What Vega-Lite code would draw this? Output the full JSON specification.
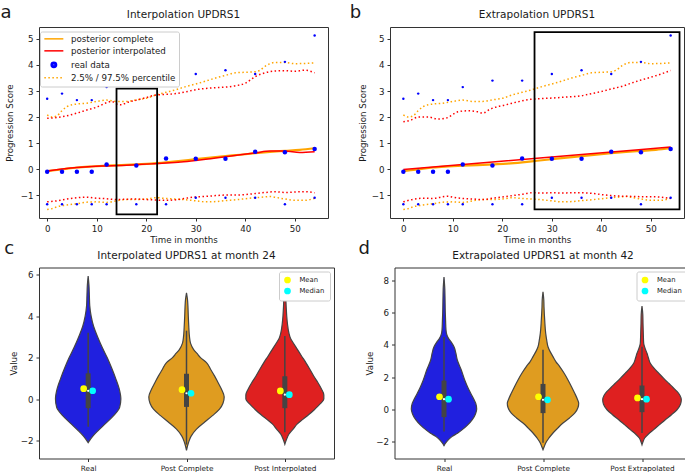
{
"$schema": "https://vega.github.io/schema/vega-lite/v6.json",
"padding": {"left": 0, "top": 4, "right": 0, "bottom": 0},
"background": "white",
"datasets": {
"curves": [
{"p":"ab","c":"mid","t":0,"v":-0.08},{"p":"ab","c":"mid","t":3,"v":-0.01},{"p":"ab","c":"mid","t":6,"v":0.06},{"p":"ab","c":"mid","t":9,"v":0.1},{"p":"ab","c":"mid","t":12,"v":0.13},{"p":"ab","c":"mid","t":15,"v":0.15},{"p":"ab","c":"mid","t":18,"v":0.18},{"p":"ab","c":"mid","t":21,"v":0.21},{"p":"ab","c":"mid","t":24,"v":0.26},{"p":"ab","c":"mid","t":27,"v":0.32},{"p":"ab","c":"mid","t":30,"v":0.38},{"p":"ab","c":"mid","t":33,"v":0.44},{"p":"ab","c":"mid","t":36,"v":0.5},{"p":"ab","c":"mid","t":39,"v":0.55},{"p":"ab","c":"mid","t":42,"v":0.61},{"p":"ab","c":"mid","t":45,"v":0.66},{"p":"ab","c":"mid","t":48,"v":0.7},{"p":"ab","c":"mid","t":51,"v":0.74},{"p":"ab","c":"mid","t":54,"v":0.8},
{"p":"ab","c":"hi","t":0,"v":2.08},{"p":"ab","c":"hi","t":1,"v":2.0},{"p":"ab","c":"hi","t":2,"v":2.05},{"p":"ab","c":"hi","t":3,"v":2.25},{"p":"ab","c":"hi","t":4,"v":2.4},{"p":"ab","c":"hi","t":5,"v":2.47},{"p":"ab","c":"hi","t":6,"v":2.5},{"p":"ab","c":"hi","t":8,"v":2.53},{"p":"ab","c":"hi","t":10,"v":2.6},{"p":"ab","c":"hi","t":12,"v":2.65},{"p":"ab","c":"hi","t":14,"v":2.6},{"p":"ab","c":"hi","t":16,"v":2.6},{"p":"ab","c":"hi","t":18,"v":2.66},{"p":"ab","c":"hi","t":20,"v":2.72},{"p":"ab","c":"hi","t":22,"v":2.85},{"p":"ab","c":"hi","t":24,"v":2.95},{"p":"ab","c":"hi","t":26,"v":3.05},{"p":"ab","c":"hi","t":28,"v":3.17},{"p":"ab","c":"hi","t":30,"v":3.27},{"p":"ab","c":"hi","t":32,"v":3.38},{"p":"ab","c":"hi","t":34,"v":3.5},{"p":"ab","c":"hi","t":36,"v":3.6},{"p":"ab","c":"hi","t":38,"v":3.7},{"p":"ab","c":"hi","t":40,"v":3.72},{"p":"ab","c":"hi","t":42,"v":3.74},{"p":"ab","c":"hi","t":43,"v":3.8},{"p":"ab","c":"hi","t":44,"v":3.95},{"p":"ab","c":"hi","t":45,"v":4.05},{"p":"ab","c":"hi","t":46,"v":4.1},{"p":"ab","c":"hi","t":48,"v":4.1},{"p":"ab","c":"hi","t":50,"v":4.05},{"p":"ab","c":"hi","t":52,"v":4.06},{"p":"ab","c":"hi","t":54,"v":4.08},
{"p":"ab","c":"lo","t":0,"v":-1.55},{"p":"ab","c":"lo","t":1,"v":-1.52},{"p":"ab","c":"lo","t":2,"v":-1.45},{"p":"ab","c":"lo","t":4,"v":-1.38},{"p":"ab","c":"lo","t":6,"v":-1.33},{"p":"ab","c":"lo","t":8,"v":-1.27},{"p":"ab","c":"lo","t":10,"v":-1.26},{"p":"ab","c":"lo","t":12,"v":-1.28},{"p":"ab","c":"lo","t":14,"v":-1.22},{"p":"ab","c":"lo","t":16,"v":-1.17},{"p":"ab","c":"lo","t":18,"v":-1.17},{"p":"ab","c":"lo","t":20,"v":-1.15},{"p":"ab","c":"lo","t":22,"v":-1.1},{"p":"ab","c":"lo","t":24,"v":-1.13},{"p":"ab","c":"lo","t":26,"v":-1.15},{"p":"ab","c":"lo","t":28,"v":-1.18},{"p":"ab","c":"lo","t":30,"v":-1.22},{"p":"ab","c":"lo","t":32,"v":-1.26},{"p":"ab","c":"lo","t":34,"v":-1.25},{"p":"ab","c":"lo","t":36,"v":-1.21},{"p":"ab","c":"lo","t":38,"v":-1.18},{"p":"ab","c":"lo","t":40,"v":-1.14},{"p":"ab","c":"lo","t":42,"v":-1.1},{"p":"ab","c":"lo","t":44,"v":-1.07},{"p":"ab","c":"lo","t":45,"v":-1.05},{"p":"ab","c":"lo","t":46,"v":-1.08},{"p":"ab","c":"lo","t":48,"v":-1.15},{"p":"ab","c":"lo","t":50,"v":-1.2},{"p":"ab","c":"lo","t":52,"v":-1.2},{"p":"ab","c":"lo","t":54,"v":-1.12},
{"p":"a","c":"mid","t":0,"v":-0.07},{"p":"a","c":"mid","t":3,"v":0.0},{"p":"a","c":"mid","t":6,"v":0.06},{"p":"a","c":"mid","t":9,"v":0.1},{"p":"a","c":"mid","t":12,"v":0.12},{"p":"a","c":"mid","t":15,"v":0.14},{"p":"a","c":"mid","t":18,"v":0.17},{"p":"a","c":"mid","t":21,"v":0.2},{"p":"a","c":"mid","t":24,"v":0.23},{"p":"a","c":"mid","t":27,"v":0.27},{"p":"a","c":"mid","t":30,"v":0.33},{"p":"a","c":"mid","t":33,"v":0.4},{"p":"a","c":"mid","t":36,"v":0.47},{"p":"a","c":"mid","t":39,"v":0.55},{"p":"a","c":"mid","t":42,"v":0.62},{"p":"a","c":"mid","t":45,"v":0.69},{"p":"a","c":"mid","t":48,"v":0.69},{"p":"a","c":"mid","t":51,"v":0.64},{"p":"a","c":"mid","t":54,"v":0.67},
{"p":"a","c":"hi","t":0,"v":1.95},{"p":"a","c":"hi","t":2,"v":1.98},{"p":"a","c":"hi","t":4,"v":2.05},{"p":"a","c":"hi","t":6,"v":2.15},{"p":"a","c":"hi","t":8,"v":2.27},{"p":"a","c":"hi","t":10,"v":2.38},{"p":"a","c":"hi","t":12,"v":2.55},{"p":"a","c":"hi","t":13,"v":2.6},{"p":"a","c":"hi","t":14,"v":2.5},{"p":"a","c":"hi","t":15,"v":2.47},{"p":"a","c":"hi","t":16,"v":2.55},{"p":"a","c":"hi","t":18,"v":2.65},{"p":"a","c":"hi","t":20,"v":2.75},{"p":"a","c":"hi","t":22,"v":2.85},{"p":"a","c":"hi","t":24,"v":2.87},{"p":"a","c":"hi","t":26,"v":2.9},{"p":"a","c":"hi","t":28,"v":2.97},{"p":"a","c":"hi","t":30,"v":3.05},{"p":"a","c":"hi","t":32,"v":3.1},{"p":"a","c":"hi","t":34,"v":3.13},{"p":"a","c":"hi","t":36,"v":3.15},{"p":"a","c":"hi","t":38,"v":3.2},{"p":"a","c":"hi","t":40,"v":3.3},{"p":"a","c":"hi","t":41,"v":3.42},{"p":"a","c":"hi","t":42,"v":3.55},{"p":"a","c":"hi","t":44,"v":3.7},{"p":"a","c":"hi","t":46,"v":3.77},{"p":"a","c":"hi","t":48,"v":3.78},{"p":"a","c":"hi","t":50,"v":3.76},{"p":"a","c":"hi","t":52,"v":3.8},{"p":"a","c":"hi","t":54,"v":3.7},
{"p":"a","c":"lo","t":0,"v":-1.26},{"p":"a","c":"lo","t":2,"v":-1.22},{"p":"a","c":"lo","t":4,"v":-1.15},{"p":"a","c":"lo","t":6,"v":-1.1},{"p":"a","c":"lo","t":8,"v":-1.08},{"p":"a","c":"lo","t":10,"v":-1.12},{"p":"a","c":"lo","t":12,"v":-1.14},{"p":"a","c":"lo","t":14,"v":-1.17},{"p":"a","c":"lo","t":16,"v":-1.16},{"p":"a","c":"lo","t":18,"v":-1.15},{"p":"a","c":"lo","t":20,"v":-1.17},{"p":"a","c":"lo","t":22,"v":-1.19},{"p":"a","c":"lo","t":24,"v":-1.2},{"p":"a","c":"lo","t":26,"v":-1.18},{"p":"a","c":"lo","t":28,"v":-1.12},{"p":"a","c":"lo","t":30,"v":-1.07},{"p":"a","c":"lo","t":32,"v":-1.05},{"p":"a","c":"lo","t":34,"v":-1.02},{"p":"a","c":"lo","t":36,"v":-1.0},{"p":"a","c":"lo","t":38,"v":-1.0},{"p":"a","c":"lo","t":40,"v":-0.98},{"p":"a","c":"lo","t":42,"v":-0.94},{"p":"a","c":"lo","t":44,"v":-0.9},{"p":"a","c":"lo","t":46,"v":-0.87},{"p":"a","c":"lo","t":48,"v":-0.9},{"p":"a","c":"lo","t":50,"v":-0.88},{"p":"a","c":"lo","t":52,"v":-0.87},{"p":"a","c":"lo","t":54,"v":-0.91},
{"p":"b","c":"mid","t":0,"v":-0.02},{"p":"b","c":"mid","t":18,"v":0.27},{"p":"b","c":"mid","t":36,"v":0.56},{"p":"b","c":"mid","t":54,"v":0.85},
{"p":"b","c":"hi","t":0,"v":1.82},{"p":"b","c":"hi","t":1.5,"v":1.88},{"p":"b","c":"hi","t":3,"v":2.0},{"p":"b","c":"hi","t":5,"v":2.0},{"p":"b","c":"hi","t":7,"v":1.92},{"p":"b","c":"hi","t":9,"v":1.98},{"p":"b","c":"hi","t":10,"v":2.1},{"p":"b","c":"hi","t":11,"v":2.2},{"p":"b","c":"hi","t":13,"v":2.24},{"p":"b","c":"hi","t":15,"v":2.2},{"p":"b","c":"hi","t":16,"v":2.15},{"p":"b","c":"hi","t":17.5,"v":2.3},{"p":"b","c":"hi","t":19,"v":2.4},{"p":"b","c":"hi","t":20.5,"v":2.46},{"p":"b","c":"hi","t":23,"v":2.58},{"p":"b","c":"hi","t":25.7,"v":2.68},{"p":"b","c":"hi","t":28,"v":2.71},{"p":"b","c":"hi","t":30,"v":2.73},{"p":"b","c":"hi","t":33,"v":2.77},{"p":"b","c":"hi","t":36,"v":2.82},{"p":"b","c":"hi","t":38,"v":2.9},{"p":"b","c":"hi","t":40,"v":2.98},{"p":"b","c":"hi","t":42,"v":3.08},{"p":"b","c":"hi","t":44,"v":3.17},{"p":"b","c":"hi","t":46,"v":3.3},{"p":"b","c":"hi","t":48,"v":3.42},{"p":"b","c":"hi","t":50,"v":3.53},{"p":"b","c":"hi","t":52,"v":3.65},{"p":"b","c":"hi","t":54,"v":3.79},
{"p":"b","c":"lo","t":0,"v":-1.26},{"p":"b","c":"lo","t":2,"v":-1.16},{"p":"b","c":"lo","t":4,"v":-1.12},{"p":"b","c":"lo","t":6,"v":-1.13},{"p":"b","c":"lo","t":8,"v":-1.06},{"p":"b","c":"lo","t":9,"v":-1.04},{"p":"b","c":"lo","t":10,"v":-1.08},{"p":"b","c":"lo","t":12,"v":-1.13},{"p":"b","c":"lo","t":14,"v":-1.15},{"p":"b","c":"lo","t":16,"v":-1.17},{"p":"b","c":"lo","t":18,"v":-1.12},{"p":"b","c":"lo","t":20,"v":-1.07},{"p":"b","c":"lo","t":22,"v":-1.02},{"p":"b","c":"lo","t":24,"v":-0.97},{"p":"b","c":"lo","t":26,"v":-0.91},{"p":"b","c":"lo","t":28,"v":-0.92},{"p":"b","c":"lo","t":30,"v":-0.91},{"p":"b","c":"lo","t":32,"v":-0.92},{"p":"b","c":"lo","t":34,"v":-0.91},{"p":"b","c":"lo","t":36,"v":-0.91},{"p":"b","c":"lo","t":38,"v":-0.93},{"p":"b","c":"lo","t":40,"v":-0.98},{"p":"b","c":"lo","t":42,"v":-1.02},{"p":"b","c":"lo","t":44,"v":-1.04},{"p":"b","c":"lo","t":46,"v":-1.05},{"p":"b","c":"lo","t":48,"v":-1.06},{"p":"b","c":"lo","t":50,"v":-1.06},{"p":"b","c":"lo","t":52,"v":-1.08},{"p":"b","c":"lo","t":54,"v":-1.13}
],
"real": [
{"t":0,"v":-0.1,"k":"mean","s":"real data"},{"t":3,"v":-0.1,"k":"mean","s":"real data"},{"t":6,"v":-0.1,"k":"mean","s":"real data"},{"t":9,"v":-0.1,"k":"mean","s":"real data"},{"t":12,"v":0.18,"k":"mean","s":"real data"},{"t":18,"v":0.14,"k":"mean","s":"real data"},{"t":24,"v":0.41,"k":"mean","s":"real data"},{"t":30,"v":0.4,"k":"mean","s":"real data"},{"t":36,"v":0.4,"k":"mean","s":"real data"},{"t":42,"v":0.67,"k":"mean","s":"real data"},{"t":48,"v":0.65,"k":"mean","s":"real data"},{"t":54,"v":0.77,"k":"mean","s":"real data"},
{"t":0,"v":2.7,"k":"q","s":"real data"},{"t":3,"v":2.9,"k":"q","s":"real data"},{"t":6,"v":2.65,"k":"q","s":"real data"},{"t":9,"v":2.65,"k":"q","s":"real data"},{"t":12,"v":3.15,"k":"q","s":"real data"},{"t":18,"v":3.4,"k":"q","s":"real data"},{"t":24,"v":3.4,"k":"q","s":"real data"},{"t":30,"v":3.65,"k":"q","s":"real data"},{"t":36,"v":3.8,"k":"q","s":"real data"},{"t":42,"v":3.65,"k":"q","s":"real data"},{"t":48,"v":4.12,"k":"q","s":"real data"},{"t":54,"v":5.13,"k":"q","s":"real data"},
{"t":0,"v":-1.35,"k":"q","s":"real data"},{"t":3,"v":-1.35,"k":"q","s":"real data"},{"t":6,"v":-1.35,"k":"q","s":"real data"},{"t":9,"v":-1.35,"k":"q","s":"real data"},{"t":12,"v":-1.35,"k":"q","s":"real data"},{"t":18,"v":-1.35,"k":"q","s":"real data"},{"t":24,"v":-1.35,"k":"q","s":"real data"},{"t":30,"v":-1.1,"k":"q","s":"real data"},{"t":36,"v":-1.1,"k":"q","s":"real data"},{"t":42,"v":-1.1,"k":"q","s":"real data"},{"t":48,"v":-1.35,"k":"q","s":"real data"},{"t":54,"v":-1.1,"k":"q","s":"real data"}
],
"frames": [
{"p":"a","t":14.0,"t2":22.2,"v":-1.74,"v2":3.09},
{"p":"b","t":26.5,"t2":55.8,"v":-1.55,"v2":5.26}
],
"violin": [
{"p":"c","cat":"Real","v":5.94,"d":0},{"p":"c","cat":"Real","v":5.5,"d":0.008},{"p":"c","cat":"Real","v":5.0,"d":0.012},{"p":"c","cat":"Real","v":4.5,"d":0.016},{"p":"c","cat":"Real","v":4.0,"d":0.03},{"p":"c","cat":"Real","v":3.5,"d":0.055},{"p":"c","cat":"Real","v":3.0,"d":0.095},{"p":"c","cat":"Real","v":2.5,"d":0.14},{"p":"c","cat":"Real","v":2.0,"d":0.19},{"p":"c","cat":"Real","v":1.5,"d":0.235},{"p":"c","cat":"Real","v":1.0,"d":0.275},{"p":"c","cat":"Real","v":0.5,"d":0.31},{"p":"c","cat":"Real","v":0.0,"d":0.327},{"p":"c","cat":"Real","v":-0.4,"d":0.315},{"p":"c","cat":"Real","v":-0.8,"d":0.255},{"p":"c","cat":"Real","v":-1.2,"d":0.17},{"p":"c","cat":"Real","v":-1.5,"d":0.105},{"p":"c","cat":"Real","v":-1.8,"d":0.045},{"p":"c","cat":"Real","v":-2.1,"d":0},
{"p":"c","cat":"Post Complete","v":5.13,"d":0},{"p":"c","cat":"Post Complete","v":4.8,"d":0.01},{"p":"c","cat":"Post Complete","v":4.4,"d":0.015},{"p":"c","cat":"Post Complete","v":4.0,"d":0.018},{"p":"c","cat":"Post Complete","v":3.5,"d":0.023},{"p":"c","cat":"Post Complete","v":3.0,"d":0.03},{"p":"c","cat":"Post Complete","v":2.7,"d":0.04},{"p":"c","cat":"Post Complete","v":2.4,"d":0.07},{"p":"c","cat":"Post Complete","v":2.2,"d":0.105},{"p":"c","cat":"Post Complete","v":2.0,"d":0.14},{"p":"c","cat":"Post Complete","v":1.76,"d":0.2},{"p":"c","cat":"Post Complete","v":1.4,"d":0.245},{"p":"c","cat":"Post Complete","v":1.12,"d":0.28},{"p":"c","cat":"Post Complete","v":0.8,"d":0.315},{"p":"c","cat":"Post Complete","v":0.47,"d":0.35},{"p":"c","cat":"Post Complete","v":0.1,"d":0.377},{"p":"c","cat":"Post Complete","v":-0.2,"d":0.365},{"p":"c","cat":"Post Complete","v":-0.49,"d":0.33},{"p":"c","cat":"Post Complete","v":-0.8,"d":0.26},{"p":"c","cat":"Post Complete","v":-1.1,"d":0.185},{"p":"c","cat":"Post Complete","v":-1.45,"d":0.1},{"p":"c","cat":"Post Complete","v":-1.8,"d":0.045},{"p":"c","cat":"Post Complete","v":-2.1,"d":0.02},{"p":"c","cat":"Post Complete","v":-2.48,"d":0},
{"p":"c","cat":"Post Interpolated","v":5.25,"d":0},{"p":"c","cat":"Post Interpolated","v":4.9,"d":0.009},{"p":"c","cat":"Post Interpolated","v":4.49,"d":0.013},{"p":"c","cat":"Post Interpolated","v":4.0,"d":0.019},{"p":"c","cat":"Post Interpolated","v":3.6,"d":0.027},{"p":"c","cat":"Post Interpolated","v":3.2,"d":0.04},{"p":"c","cat":"Post Interpolated","v":2.9,"d":0.06},{"p":"c","cat":"Post Interpolated","v":2.72,"d":0.083},{"p":"c","cat":"Post Interpolated","v":2.4,"d":0.125},{"p":"c","cat":"Post Interpolated","v":2.08,"d":0.167},{"p":"c","cat":"Post Interpolated","v":1.76,"d":0.21},{"p":"c","cat":"Post Interpolated","v":1.44,"d":0.25},{"p":"c","cat":"Post Interpolated","v":1.1,"d":0.29},{"p":"c","cat":"Post Interpolated","v":0.8,"d":0.33},{"p":"c","cat":"Post Interpolated","v":0.5,"d":0.365},{"p":"c","cat":"Post Interpolated","v":0.2,"d":0.39},{"p":"c","cat":"Post Interpolated","v":0.0,"d":0.39},{"p":"c","cat":"Post Interpolated","v":-0.25,"d":0.35},{"p":"c","cat":"Post Interpolated","v":-0.49,"d":0.3},{"p":"c","cat":"Post Interpolated","v":-0.75,"d":0.24},{"p":"c","cat":"Post Interpolated","v":-0.97,"d":0.183},{"p":"c","cat":"Post Interpolated","v":-1.2,"d":0.125},{"p":"c","cat":"Post Interpolated","v":-1.45,"d":0.083},{"p":"c","cat":"Post Interpolated","v":-1.7,"d":0.04},{"p":"c","cat":"Post Interpolated","v":-1.94,"d":0.017},{"p":"c","cat":"Post Interpolated","v":-2.18,"d":0},
{"p":"d","cat":"Real","v":8.24,"d":0},{"p":"d","cat":"Real","v":7.5,"d":0.008},{"p":"d","cat":"Real","v":7.0,"d":0.01},{"p":"d","cat":"Real","v":6.0,"d":0.013},{"p":"d","cat":"Real","v":5.5,"d":0.016},{"p":"d","cat":"Real","v":4.93,"d":0.02},{"p":"d","cat":"Real","v":4.6,"d":0.03},{"p":"d","cat":"Real","v":4.41,"d":0.045},{"p":"d","cat":"Real","v":4.15,"d":0.075},{"p":"d","cat":"Real","v":3.89,"d":0.1},{"p":"d","cat":"Real","v":3.5,"d":0.118},{"p":"d","cat":"Real","v":3.06,"d":0.133},{"p":"d","cat":"Real","v":2.44,"d":0.173},{"p":"d","cat":"Real","v":1.82,"d":0.207},{"p":"d","cat":"Real","v":1.4,"d":0.235},{"p":"d","cat":"Real","v":0.99,"d":0.267},{"p":"d","cat":"Real","v":0.6,"d":0.3},{"p":"d","cat":"Real","v":0.37,"d":0.317},{"p":"d","cat":"Real","v":0.0,"d":0.327},{"p":"d","cat":"Real","v":-0.3,"d":0.315},{"p":"d","cat":"Real","v":-0.66,"d":0.283},{"p":"d","cat":"Real","v":-1.0,"d":0.235},{"p":"d","cat":"Real","v":-1.28,"d":0.183},{"p":"d","cat":"Real","v":-1.5,"d":0.135},{"p":"d","cat":"Real","v":-1.7,"d":0.083},{"p":"d","cat":"Real","v":-1.9,"d":0.045},{"p":"d","cat":"Real","v":-2.11,"d":0.017},{"p":"d","cat":"Real","v":-2.28,"d":0},
{"p":"d","cat":"Post Complete","v":7.31,"d":0},{"p":"d","cat":"Post Complete","v":6.8,"d":0.008},{"p":"d","cat":"Post Complete","v":6.38,"d":0.01},{"p":"d","cat":"Post Complete","v":5.55,"d":0.017},{"p":"d","cat":"Post Complete","v":4.72,"d":0.027},{"p":"d","cat":"Post Complete","v":4.3,"d":0.037},{"p":"d","cat":"Post Complete","v":3.89,"d":0.05},{"p":"d","cat":"Post Complete","v":3.6,"d":0.07},{"p":"d","cat":"Post Complete","v":3.27,"d":0.1},{"p":"d","cat":"Post Complete","v":2.95,"d":0.13},{"p":"d","cat":"Post Complete","v":2.65,"d":0.167},{"p":"d","cat":"Post Complete","v":2.25,"d":0.21},{"p":"d","cat":"Post Complete","v":1.82,"d":0.25},{"p":"d","cat":"Post Complete","v":1.4,"d":0.285},{"p":"d","cat":"Post Complete","v":0.99,"d":0.317},{"p":"d","cat":"Post Complete","v":0.6,"d":0.345},{"p":"d","cat":"Post Complete","v":0.37,"d":0.357},{"p":"d","cat":"Post Complete","v":0.1,"d":0.35},{"p":"d","cat":"Post Complete","v":-0.25,"d":0.317},{"p":"d","cat":"Post Complete","v":-0.55,"d":0.265},{"p":"d","cat":"Post Complete","v":-0.87,"d":0.2},{"p":"d","cat":"Post Complete","v":-1.2,"d":0.145},{"p":"d","cat":"Post Complete","v":-1.49,"d":0.1},{"p":"d","cat":"Post Complete","v":-1.8,"d":0.06},{"p":"d","cat":"Post Complete","v":-2.11,"d":0.027},{"p":"d","cat":"Post Complete","v":-2.35,"d":0.012},{"p":"d","cat":"Post Complete","v":-2.53,"d":0},
{"p":"d","cat":"Post Extrapolated","v":6.42,"d":0},{"p":"d","cat":"Post Extrapolated","v":5.9,"d":0.008},{"p":"d","cat":"Post Extrapolated","v":5.34,"d":0.01},{"p":"d","cat":"Post Extrapolated","v":4.7,"d":0.013},{"p":"d","cat":"Post Extrapolated","v":4.1,"d":0.017},{"p":"d","cat":"Post Extrapolated","v":3.8,"d":0.03},{"p":"d","cat":"Post Extrapolated","v":3.48,"d":0.05},{"p":"d","cat":"Post Extrapolated","v":3.17,"d":0.065},{"p":"d","cat":"Post Extrapolated","v":2.86,"d":0.083},{"p":"d","cat":"Post Extrapolated","v":2.55,"d":0.12},{"p":"d","cat":"Post Extrapolated","v":2.24,"d":0.167},{"p":"d","cat":"Post Extrapolated","v":1.93,"d":0.215},{"p":"d","cat":"Post Extrapolated","v":1.61,"d":0.267},{"p":"d","cat":"Post Extrapolated","v":1.35,"d":0.31},{"p":"d","cat":"Post Extrapolated","v":1.1,"d":0.35},{"p":"d","cat":"Post Extrapolated","v":0.85,"d":0.38},{"p":"d","cat":"Post Extrapolated","v":0.58,"d":0.393},{"p":"d","cat":"Post Extrapolated","v":0.3,"d":0.385},{"p":"d","cat":"Post Extrapolated","v":-0.04,"d":0.35},{"p":"d","cat":"Post Extrapolated","v":-0.35,"d":0.295},{"p":"d","cat":"Post Extrapolated","v":-0.66,"d":0.233},{"p":"d","cat":"Post Extrapolated","v":-0.97,"d":0.175},{"p":"d","cat":"Post Extrapolated","v":-1.28,"d":0.117},{"p":"d","cat":"Post Extrapolated","v":-1.55,"d":0.065},{"p":"d","cat":"Post Extrapolated","v":-1.8,"d":0.027},{"p":"d","cat":"Post Extrapolated","v":-2.0,"d":0.012},{"p":"d","cat":"Post Extrapolated","v":-2.22,"d":0}
],
"boxes": [
{"p":"c","cat":"Real","part":"w","v":-1.34,"v2":3.2},{"p":"c","cat":"Real","part":"q","v":-0.44,"v2":1.24},
{"p":"c","cat":"Post Complete","part":"w","v":-2.2,"v2":3.3},{"p":"c","cat":"Post Complete","part":"q","v":-0.38,"v2":1.22},
{"p":"c","cat":"Post Interpolated","part":"w","v":-1.6,"v2":3.04},{"p":"c","cat":"Post Interpolated","part":"q","v":-0.44,"v2":1.1},
{"p":"d","cat":"Real","part":"w","v":-1.39,"v2":4.5},{"p":"d","cat":"Real","part":"q","v":-0.5,"v2":1.78},
{"p":"d","cat":"Post Complete","part":"w","v":-2.1,"v2":3.7},{"p":"d","cat":"Post Complete","part":"q","v":-0.25,"v2":1.57},
{"p":"d","cat":"Post Extrapolated","part":"w","v":-1.49,"v2":3.89},{"p":"d","cat":"Post Extrapolated","part":"q","v":-0.19,"v2":1.47}
],
"stats": [
{"p":"c","cat":"Real","stat":"Mean","v":0.5},{"p":"c","cat":"Real","stat":"Median","v":0.4},
{"p":"c","cat":"Post Complete","stat":"Mean","v":0.45},{"p":"c","cat":"Post Complete","stat":"Median","v":0.28},
{"p":"c","cat":"Post Interpolated","stat":"Mean","v":0.39},{"p":"c","cat":"Post Interpolated","stat":"Median","v":0.21},
{"p":"d","cat":"Real","stat":"Mean","v":0.77},{"p":"d","cat":"Real","stat":"Median","v":0.62},
{"p":"d","cat":"Post Complete","stat":"Mean","v":0.77},{"p":"d","cat":"Post Complete","stat":"Median","v":0.58},
{"p":"d","cat":"Post Extrapolated","stat":"Mean","v":0.7},{"p":"d","cat":"Post Extrapolated","stat":"Median","v":0.62}
]
},
"vconcat": [
{
"hconcat": [
{
"title": {"text": "a", "anchor": "start", "frame": "bounds", "fontSize": 18, "fontWeight": "normal", "baseline": "alphabetic", "offset": -6.5, "dx": -5, "dy": 20},
"resolve": {"scale": {"color": "independent", "shape": "independent", "size": "independent"}, "legend": {"color": "independent", "shape": "independent", "size": "independent"}},
"vconcat": [
{
"width": 289, "height": 191,
"title": {"text": "Interpolation UPDRS1"},
"encoding": {
"x": {"field": "t", "type": "quantitative", "title": "Time in months", "scale": {"domain": [-1.65, 56.7], "nice": false, "zero": false}, "axis": {"values": [0,10,20,30,40,50], "titlePadding": 3, "labelFlush": false}},
"y": {"field": "v", "type": "quantitative", "title": "Progression Score", "scale": {"domain": [-1.88, 5.46], "nice": false, "zero": false}, "axis": {"values": [-1,0,1,2,3,4,5], "titlePadding": 5.3}}
},
"layer": [
{"data": {"name": "curves"}, "transform": [{"filter": "datum.p==='ab' && datum.c!=='mid'"}], "mark": {"type": "line", "color": "orange", "strokeWidth": 1.5, "strokeDash": [1.5, 2.5], "interpolate": "monotone"}, "encoding": {"detail": {"field": "c"}}},
{"data": {"name": "curves"}, "transform": [{"filter": "datum.p==='a' && datum.c!=='mid'"}], "mark": {"type": "line", "color": "red", "strokeWidth": 1.5, "strokeDash": [1.5, 2.5], "interpolate": "monotone"}, "encoding": {"detail": {"field": "c"}}},
{"data": {"name": "curves"}, "transform": [{"filter": "datum.p==='ab' && datum.c==='mid'"}], "mark": {"type": "line", "color": "orange", "strokeWidth": 2.2, "interpolate": "monotone"}, "encoding": {}},
{"data": {"name": "curves"}, "transform": [{"filter": "datum.p==='a' && datum.c==='mid'"}], "mark": {"type": "line", "color": "red", "strokeWidth": 1.5, "interpolate": "monotone"}, "encoding": {}},
{"data": {"name": "real"}, "mark": {"type": "circle", "color": "blue", "opacity": 1}, "encoding": {"size": {"field": "k", "type": "ordinal", "scale": {"domain": ["mean","q"], "range": [20, 6]}, "legend": null}}},
{"data": {"name": "real"}, "transform": [{"filter": "datum.t===0 && datum.k==='mean'"}], "mark": {"type": "point", "filled": false, "opacity": 0, "strokeWidth": 1.5},
 "encoding": {
  "color": {"field": "s", "type": "nominal",
   "scale": {"domain": ["posterior complete","posterior interpolated","real data","2.5% / 97.5% percentile"], "range": ["orange", "red", "blue", "orange"]},
   "legend": {"title": null, "orient": "none", "legendX": 1, "legendY": 4.5, "padding": 3, "fillColor": "white", "strokeColor": "#cccccc", "cornerRadius": 2, "labelFontSize": 8.7, "labelOffset": 19.3, "symbolSize": 36, "rowPadding": 2, "symbolStrokeWidth": 1.5, "encode": {"symbols": {"update": {"opacity": {"value": 1}}}}}},
  "shape": {"field": "s", "type": "nominal",
   "scale": {"domain": ["posterior complete","posterior interpolated","real data","2.5% / 97.5% percentile"], "range": ["M-1,0H5.33", "M-1,0H5.33", "M1.27,0A0.9,0.9,0,1,1,3.07,0A0.9,0.9,0,1,1,1.27,0ZM1.72,0A0.45,0.45,0,1,1,2.62,0A0.45,0.45,0,1,1,1.72,0ZM2.07,0A0.1,0.1,0,1,1,2.27,0A0.1,0.1,0,1,1,2.07,0Z", "M-1,0H-0.5M0.33,0H0.83M1.67,0H2.17M3,0H3.5M4.33,0H4.83"]},
   "legend": {"title": null, "orient": "none", "legendX": 1, "legendY": 4.5, "padding": 3, "fillColor": "white", "strokeColor": "#cccccc", "cornerRadius": 2, "labelFontSize": 8.7, "labelOffset": 19.3, "symbolSize": 36, "rowPadding": 2, "symbolStrokeWidth": 1.5, "encode": {"symbols": {"update": {"opacity": {"value": 1}}}}}}}},
{"data": {"name": "frames"}, "transform": [{"filter": "datum.p==='a'"}], "mark": {"type": "rect", "fill": "transparent", "stroke": "black", "strokeWidth": 1.8}, "encoding": {"x2": {"field": "t2"}, "y2": {"field": "v2"}}}
]
}
]
},
{
"title": {"text": "b", "anchor": "start", "frame": "bounds", "fontSize": 18, "fontWeight": "normal", "baseline": "alphabetic", "offset": -6.5, "dx": -8.3, "dy": 20},
"resolve": {"scale": {"color": "independent", "shape": "independent", "size": "independent"}, "legend": {"color": "independent", "shape": "independent", "size": "independent"}},
"vconcat": [
{
"width": 294, "height": 191,
"title": {"text": "Extrapolation UPDRS1"},
"encoding": {
"x": {"field": "t", "type": "quantitative", "title": "Time in months", "scale": {"domain": [-2.7, 56.7], "nice": false, "zero": false}, "axis": {"values": [0,10,20,30,40,50], "titlePadding": 3, "labelFlush": false}},
"y": {"field": "v", "type": "quantitative", "title": "Progression Score", "scale": {"domain": [-1.88, 5.46], "nice": false, "zero": false}, "axis": {"values": [-1,0,1,2,3,4,5], "titlePadding": 3.6}}
},
"layer": [
{"data": {"name": "curves"}, "transform": [{"filter": "datum.p==='ab' && datum.c!=='mid'"}], "mark": {"type": "line", "color": "orange", "strokeWidth": 1.5, "strokeDash": [1.5, 2.5], "interpolate": "monotone"}, "encoding": {"detail": {"field": "c"}}},
{"data": {"name": "curves"}, "transform": [{"filter": "datum.p==='b' && datum.c!=='mid'"}], "mark": {"type": "line", "color": "red", "strokeWidth": 1.5, "strokeDash": [1.5, 2.5], "interpolate": "monotone"}, "encoding": {"detail": {"field": "c"}}},
{"data": {"name": "curves"}, "transform": [{"filter": "datum.p==='ab' && datum.c==='mid'"}], "mark": {"type": "line", "color": "orange", "strokeWidth": 2.2, "interpolate": "monotone"}, "encoding": {}},
{"data": {"name": "curves"}, "transform": [{"filter": "datum.p==='b' && datum.c==='mid'"}], "mark": {"type": "line", "color": "red", "strokeWidth": 1.5, "interpolate": "monotone"}, "encoding": {}},
{"data": {"name": "real"}, "mark": {"type": "circle", "color": "blue", "opacity": 1}, "encoding": {"size": {"field": "k", "type": "ordinal", "scale": {"domain": ["mean","q"], "range": [20, 6]}, "legend": null}}},
{"data": {"name": "frames"}, "transform": [{"filter": "datum.p==='b'"}], "mark": {"type": "rect", "fill": "transparent", "stroke": "black", "strokeWidth": 1.8}, "encoding": {"x2": {"field": "t2"}, "y2": {"field": "v2"}}}
]
}
]
}
],
"spacing": 20,
"resolve": {"scale": {"color": "independent", "shape": "independent", "size": "independent"}, "legend": {"color": "independent", "shape": "independent", "size": "independent"}}
},
{
"hconcat": [
{
"title": {"text": "c", "anchor": "start", "frame": "bounds", "fontSize": 18, "fontWeight": "normal", "baseline": "alphabetic", "offset": -2.4, "dx": -5, "dy": 20},
"resolve": {"scale": {"color": "independent"}, "legend": {"color": "independent"}},
"vconcat": [
{
"width": 295, "height": 191,
"title": {"text": "Interpolated UPDRS1 at month 24"},
"encoding": {"y": {"field": "v", "type": "quantitative", "title": "Value", "scale": {"domain": [-2.87, 6.35], "nice": false, "zero": false}, "axis": {"values": [-2,0,2,4,6], "titlePadding": 1.5}}},
"layer": [
{"data": {"name": "violin"}, "transform": [{"filter": "datum.p==='c' && datum.cat==='Real'"}], "mark": {"type": "area", "orient": "horizontal", "interpolate": "monotone", "fill": "#2020df", "stroke": "#444444", "strokeWidth": 1.2}, "encoding": {"x": {"field": "d", "type": "quantitative", "stack": "center", "scale": {"domain": [-0.0823, 1.3927], "nice": false}, "axis": null}}},
{"data": {"name": "violin"}, "transform": [{"filter": "datum.p==='c' && datum.cat==='Post Complete'"}], "mark": {"type": "area", "orient": "horizontal", "interpolate": "monotone", "fill": "#df9c20", "stroke": "#444444", "strokeWidth": 1.2}, "encoding": {"x": {"field": "d", "type": "quantitative", "stack": "center", "scale": {"domain": [-0.549, 0.926], "nice": false}, "axis": null}}},
{"data": {"name": "violin"}, "transform": [{"filter": "datum.p==='c' && datum.cat==='Post Interpolated'"}], "mark": {"type": "area", "orient": "horizontal", "interpolate": "monotone", "fill": "#df2020", "stroke": "#444444", "strokeWidth": 1.2}, "encoding": {"x": {"field": "d", "type": "quantitative", "stack": "center", "scale": {"domain": [-1.0342, 0.4408], "nice": false}, "axis": null}}},
{"data": {"name": "boxes"}, "transform": [{"filter": "datum.p==='c' && datum.part==='w'"}], "mark": {"type": "rule", "color": "#444444", "strokeWidth": 1.5}, "encoding": {"x": {"field": "cat", "type": "nominal", "title": null, "scale": {"type": "point", "padding": 0.5, "domain": ["Real","Post Complete","Post Interpolated"]}, "axis": {"labelFontSize": 7.3, "labelAngle": 0}}, "y2": {"field": "v2"}}},
{"data": {"name": "boxes"}, "transform": [{"filter": "datum.p==='c' && datum.part==='q'"}], "mark": {"type": "rule", "color": "#444444", "strokeWidth": 5}, "encoding": {"x": {"field": "cat", "type": "nominal", "title": null, "scale": {"type": "point", "padding": 0.5, "domain": ["Real","Post Complete","Post Interpolated"]}, "axis": null}, "y2": {"field": "v2"}}},
{"data": {"name": "stats"}, "transform": [{"filter": "datum.p==='c' && datum.stat==='Median'"}], "mark": {"type": "circle", "color": "white", "size": 5, "opacity": 1}, "encoding": {"x": {"field": "cat", "type": "nominal", "title": null, "scale": {"type": "point", "padding": 0.5, "domain": ["Real","Post Complete","Post Interpolated"]}, "axis": null}}},
{"data": {"name": "stats"}, "transform": [{"filter": "datum.p==='c'"}], "mark": {"type": "circle", "size": 45, "opacity": 1},
 "encoding": {"x": {"field": "cat", "type": "nominal", "title": null, "scale": {"type": "point", "padding": 0.5, "domain": ["Real","Post Complete","Post Interpolated"]}, "axis": null},
   "xOffset": {"field": "stat", "type": "nominal", "scale": {"type": "point", "padding": 0, "range": [-4.5, 4.5]}},
   "color": {"field": "stat", "type": "nominal", "scale": {"domain": ["Mean","Median"], "range": ["#ffff00","#00ffff"]},
     "legend": {"title": null, "orient": "top-right", "offset": 4, "padding": 5, "fillColor": "white", "strokeColor": "#cccccc", "cornerRadius": 2, "labelFontSize": 6.8, "symbolType": "circle", "symbolSize": 45, "symbolStrokeWidth": 0, "rowPadding": 3, "labelOffset": 8.5}}}}
],
"resolve": {"scale": {"x": "independent"}}
}
]
},
{
"title": {"text": "d", "anchor": "start", "frame": "bounds", "fontSize": 18, "fontWeight": "normal", "baseline": "alphabetic", "offset": -2.4, "dx": -6.6, "dy": 20},
"resolve": {"scale": {"color": "independent"}, "legend": {"color": "independent"}},
"vconcat": [
{
"width": 297, "height": 191,
"title": {"text": "Extrapolated UPDRS1 at month 42"},
"encoding": {"y": {"field": "v", "type": "quantitative", "title": "Value", "scale": {"domain": [-3.08, 8.83], "nice": false, "zero": false}, "axis": {"values": [-2,0,2,4,6,8], "titlePadding": 1.2}}},
"layer": [
{"data": {"name": "violin"}, "transform": [{"filter": "datum.p==='d' && datum.cat==='Real'"}], "mark": {"type": "area", "orient": "horizontal", "interpolate": "monotone", "fill": "#2020df", "stroke": "#444444", "strokeWidth": 1.2}, "encoding": {"x": {"field": "d", "type": "quantitative", "stack": "center", "scale": {"domain": [-0.084, 1.401], "nice": false}, "axis": null}}},
{"data": {"name": "violin"}, "transform": [{"filter": "datum.p==='d' && datum.cat==='Post Complete'"}], "mark": {"type": "area", "orient": "horizontal", "interpolate": "monotone", "fill": "#df9c20", "stroke": "#444444", "strokeWidth": 1.2}, "encoding": {"x": {"field": "d", "type": "quantitative", "stack": "center", "scale": {"domain": [-0.564, 0.921], "nice": false}, "axis": null}}},
{"data": {"name": "violin"}, "transform": [{"filter": "datum.p==='d' && datum.cat==='Post Extrapolated'"}], "mark": {"type": "area", "orient": "horizontal", "interpolate": "monotone", "fill": "#df2020", "stroke": "#444444", "strokeWidth": 1.2}, "encoding": {"x": {"field": "d", "type": "quantitative", "stack": "center", "scale": {"domain": [-1.041, 0.444], "nice": false}, "axis": null}}},
{"data": {"name": "boxes"}, "transform": [{"filter": "datum.p==='d' && datum.part==='w'"}], "mark": {"type": "rule", "color": "#444444", "strokeWidth": 1.5}, "encoding": {"x": {"field": "cat", "type": "nominal", "title": null, "scale": {"type": "point", "padding": 0.5, "domain": ["Real","Post Complete","Post Extrapolated"]}, "axis": {"labelFontSize": 7.3, "labelAngle": 0}}, "y2": {"field": "v2"}}},
{"data": {"name": "boxes"}, "transform": [{"filter": "datum.p==='d' && datum.part==='q'"}], "mark": {"type": "rule", "color": "#444444", "strokeWidth": 5}, "encoding": {"x": {"field": "cat", "type": "nominal", "title": null, "scale": {"type": "point", "padding": 0.5, "domain": ["Real","Post Complete","Post Extrapolated"]}, "axis": null}, "y2": {"field": "v2"}}},
{"data": {"name": "stats"}, "transform": [{"filter": "datum.p==='d' && datum.stat==='Median'"}], "mark": {"type": "circle", "color": "white", "size": 5, "opacity": 1}, "encoding": {"x": {"field": "cat", "type": "nominal", "title": null, "scale": {"type": "point", "padding": 0.5, "domain": ["Real","Post Complete","Post Extrapolated"]}, "axis": null}}},
{"data": {"name": "stats"}, "transform": [{"filter": "datum.p==='d'"}], "mark": {"type": "circle", "size": 45, "opacity": 1},
 "encoding": {"x": {"field": "cat", "type": "nominal", "title": null, "scale": {"type": "point", "padding": 0.5, "domain": ["Real","Post Complete","Post Extrapolated"]}, "axis": null},
   "xOffset": {"field": "stat", "type": "nominal", "scale": {"type": "point", "padding": 0, "range": [-4.5, 4.5]}},
   "color": {"field": "stat", "type": "nominal", "scale": {"domain": ["Mean","Median"], "range": ["#ffff00","#00ffff"]},
     "legend": {"title": null, "orient": "top-right", "offset": 4, "padding": 5, "fillColor": "white", "strokeColor": "#cccccc", "cornerRadius": 2, "labelFontSize": 6.8, "symbolType": "circle", "symbolSize": 45, "symbolStrokeWidth": 0, "rowPadding": 3, "labelOffset": 8.5}}}}
],
"resolve": {"scale": {"x": "independent"}}
}
]
}
],
"spacing": 22.5,
"resolve": {"scale": {"color": "independent"}, "legend": {"color": "independent"}}
}
],
"spacing": -5.5,
"resolve": {"scale": {"color": "independent", "shape": "independent", "size": "independent"}, "legend": {"color": "independent", "shape": "independent", "size": "independent"}},
"config": {
"font": "DejaVu Sans",
"view": {"stroke": "#333333", "strokeWidth": 1},
"axis": {"labelFont": "DejaVu Sans", "titleFont": "DejaVu Sans", "labelFontSize": 8.7, "titleFontSize": 8.7, "titleFontWeight": "normal", "labelColor": "#1a1a1a", "titleColor": "#1a1a1a", "tickColor": "#333333", "tickSize": 3, "labelPadding": 3, "domain": false, "grid": false},
"title": {"font": "DejaVu Sans", "fontSize": 10.5, "fontWeight": "normal", "color": "#1a1a1a", "baseline": "alphabetic", "offset": 6.5},
"legend": {"labelFont": "DejaVu Sans", "labelColor": "#1a1a1a"}
}
}
